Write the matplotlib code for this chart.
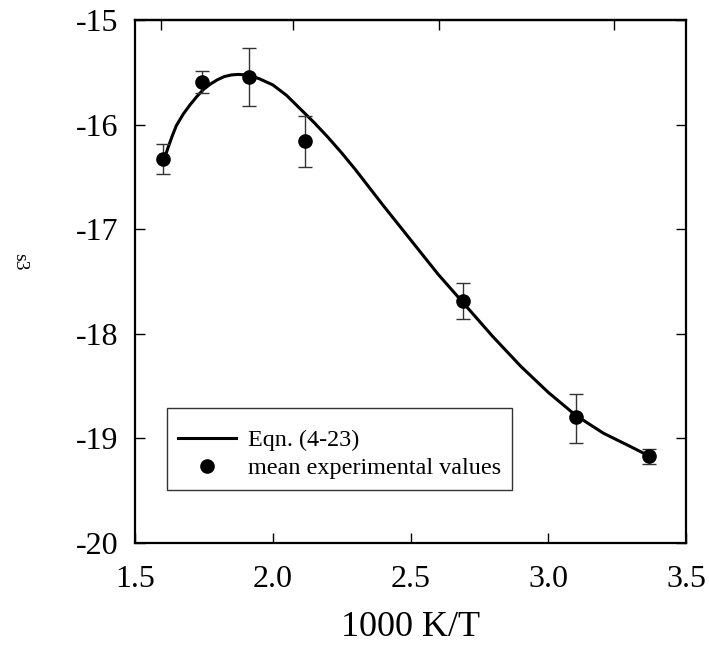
import numpy as np
import matplotlib.pyplot as plt

plt.rcParams['font.family'] = ['Liberation Serif', 'DejaVu Serif']

# mean experimental values with error bar limits
x_exp = [1.602, 1.745, 1.912, 2.117, 2.690, 3.102, 3.365]
y_exp = [-16.33, -15.59, -15.545, -16.16, -17.69, -18.80, -19.17]
y_hi = [-16.19, -15.49, -15.27, -15.92, -17.51, -18.58, -19.10]
y_lo = [-16.47, -15.70, -15.82, -16.41, -17.86, -19.04, -19.24]

# Eqn. (4-23) curve
x_fit = [1.61, 1.62, 1.635, 1.65, 1.675, 1.70, 1.725, 1.75, 1.775, 1.80, 1.825, 1.85, 1.875,
         1.90, 1.925, 1.95, 2.00, 2.05, 2.10, 2.15, 2.20, 2.25, 2.30, 2.40, 2.50, 2.60,
         2.70, 2.80, 2.90, 3.00, 3.10, 3.20, 3.30, 3.36]
y_fit = [-16.30, -16.22, -16.11, -16.01, -15.90, -15.81, -15.73, -15.66, -15.61, -15.57,
         -15.54, -15.525, -15.52, -15.525, -15.54, -15.56, -15.62, -15.72, -15.85, -15.98,
         -16.12, -16.27, -16.43, -16.77, -17.10, -17.43, -17.73, -18.03, -18.31, -18.56,
         -18.78, -18.95, -19.08, -19.16]

top_ticks = [1.595, 2.073, 2.602, 3.237]

fig = plt.figure(figsize=(7.09, 6.54), dpi=100)
ax = fig.add_axes([0.1904, 0.1697, 0.7772, 0.7997])

ax.plot(x_fit, y_fit, color='black', lw=2.2, label='Eqn. (4-23)', zorder=2)
yerr = [np.array(y_exp) - np.array(y_lo), np.array(y_hi) - np.array(y_exp)]
ax.errorbar(x_exp, y_exp, yerr=yerr, fmt='none', ecolor='#333333', elinewidth=1.0,
            capsize=5, capthick=1.0, zorder=3)
ax.plot(x_exp, y_exp, 'o', color='black', ms=9.5, ls='none',
        label='mean experimental values', zorder=4)

ax.set_xlim(1.5, 3.5)
ax.set_ylim(-20, -15)
ax.set_xticks([1.5, 2.0, 2.5, 3.0, 3.5])
ax.set_xticklabels(['1.5', '2.0', '2.5', '3.0', '3.5'])
ax.set_yticks([-20, -19, -18, -17, -16, -15])
ax.set_yticklabels(['-20', '-19', '-18', '-17', '-16', '-15'])
ax.tick_params(direction='in', length=7, width=1, labelsize=23)
ax.tick_params(axis='y', pad=12, right=True)
ax.tick_params(axis='x', pad=16)

sec = ax.secondary_xaxis('top')
sec.set_xticks(top_ticks)
sec.set_xticklabels([])
sec.tick_params(direction='in', length=7, width=1)
sec.spines['top'].set_linewidth(1.6)

for s in ax.spines.values():
    s.set_linewidth(1.6)

ax.set_xlabel('1000 K/T', fontsize=26, labelpad=12)
ax.set_ylabel('s3', fontsize=14, rotation=-90)
ax.yaxis.set_label_coords(-0.225, 0.538)

leg = ax.legend(loc='lower left', bbox_to_anchor=(0.058, 0.101), borderaxespad=0,
                fontsize=17.4, frameon=True, fancybox=False, edgecolor='black',
                handlelength=2.4, borderpad=0.45, labelspacing=0.25, handletextpad=0.5,
                title=' ', title_fontsize=5)
leg.get_frame().set_linewidth(1.0)

fig.savefig('out.png', dpi=100)
